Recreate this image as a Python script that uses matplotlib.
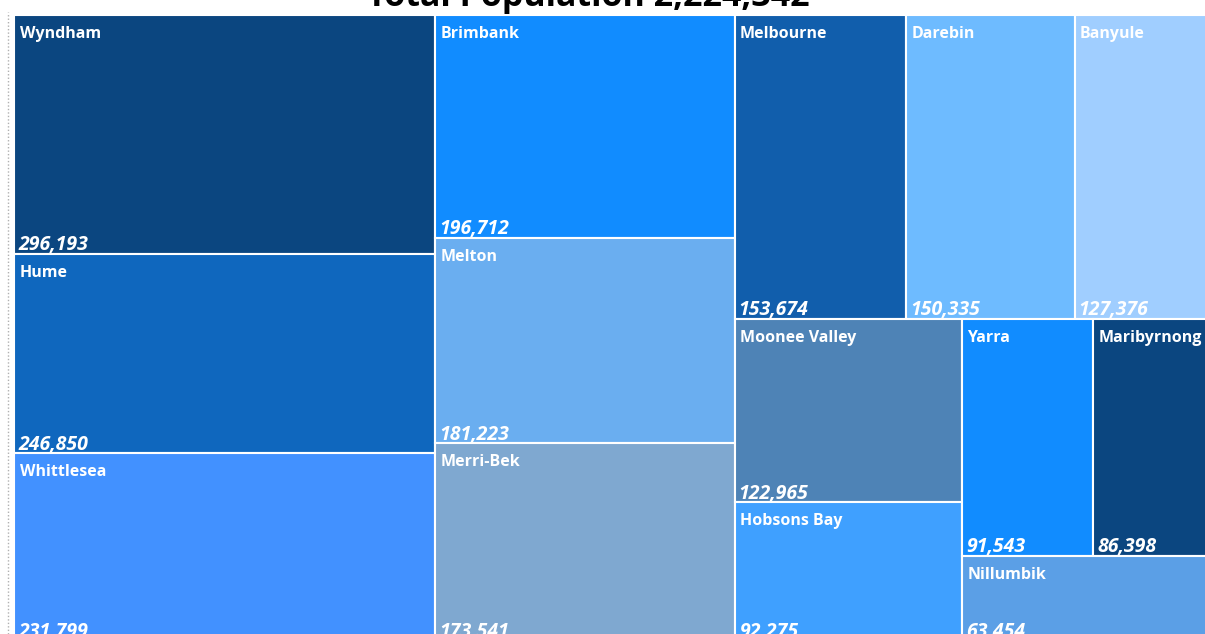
import matplotlib
matplotlib.use("Agg")
import matplotlib.pyplot as plt
from matplotlib.patches import Rectangle
from matplotlib.lines import Line2D
from matplotlib.transforms import offset_copy

# population by LGA
names = ["Wyndham", "Hume", "Whittlesea", "Brimbank", "Melton", "Merri-Bek",
         "Melbourne", "Darebin", "Banyule", "Moonee Valley", "Hobsons Bay",
         "Yarra", "Maribyrnong", "Nillumbik"]
values = [296193, 246850, 231799, 196712, 181223, 173541,
          153674, 150335, 127376, 122965, 92275,
          91543, 86398, 63454]
colors = ["#0B4680", "#0F67BE", "#4291FF", "#118CFF", "#6AAEF0", "#7FA8D0",
          "#115EAC", "#6EBBFF", "#A0CEFF", "#4E83B6", "#3FA0FF",
          "#118CFF", "#0B4680", "#5B9FE6"]
title = "Total Population 2,224,342"

# how the tiles are nested: ('h', ...) splits left to right, ('v', ...) top to bottom
layout = ('h',
          ('v', 0, 1, 2),
          ('v', 3, 4, 5),
          ('v',
           ('h', 6, 7, 8),
           ('h',
            ('v', 9, 10),
            ('v', ('h', 11, 12), 13))))


def total(node):
    if isinstance(node, int):
        return values[node]
    return sum(total(c) for c in node[1:])


def place(node, x, y, w, h, out):
    if isinstance(node, int):
        out[node] = (x, y, w, h)
        return
    s = total(node)
    pos = 0.0
    for c in node[1:]:
        f = total(c) / s
        if node[0] == 'h':
            place(c, x + pos * w, y, w * f, h, out)
        else:
            place(c, x, y + pos * h, w, h * f, out)
        pos += f


rects = {}
place(layout, 0, 0, 1, 1, rects)

W, H = 1205, 634
fig = plt.figure(figsize=(W / 100, H / 100), dpi=100)
ax = fig.add_axes([14 / W, (H - 640) / H, 1203 / W, 625 / H])
ax.set_xlim(0, 1)
ax.set_ylim(1, 0)
ax.axis("off")

name_tr = offset_copy(ax.transData, fig=fig, x=4, y=-8, units="points")
val_tr = offset_copy(ax.transData, fig=fig, x=3, y=2.5, units="points")

for i, n in enumerate(names):
    x, y, w, h = rects[i]
    ax.add_patch(Rectangle((x, y), w, h, facecolor=colors[i],
                           edgecolor="white", linewidth=1.5))
    ax.text(x, y, n, transform=name_tr, color="white", fontsize=11.5,
            fontweight="bold", family="Open Sans", ha="left", va="top")
    ax.text(x, y + h, f"{values[i]:,}", transform=val_tr, color="white",
            fontsize=14, fontweight="bold", fontstyle="italic",
            family="Open Sans", ha="left", va="baseline")

# title sits mostly above the visible area, only its lower part shows
fig.text(588 / W, 1 - 6 / H, title, fontsize=24.5, fontweight="bold",
         family="Open Sans", ha="center", va="baseline", color="black")

fig.add_artist(Line2D([8 / W, 8 / W], [0, 1 - 12 / H], transform=fig.transFigure,
                      color="#b0b0b0", linestyle=(0, (1, 1.5)), linewidth=1))

fig.savefig("out.png", dpi=100)
